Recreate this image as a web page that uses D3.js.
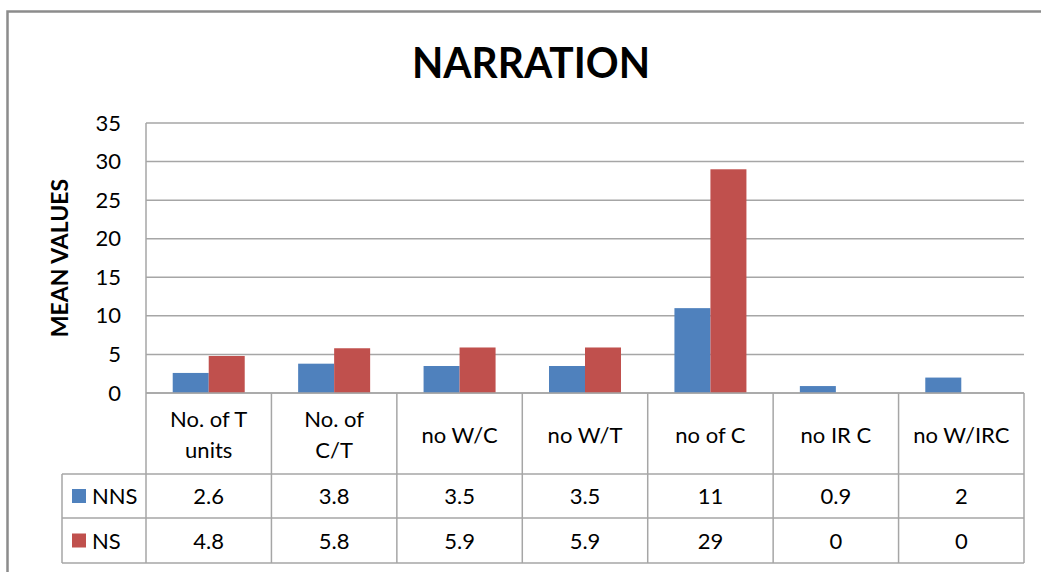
<!DOCTYPE html>
<html><head><meta charset="utf-8">
<script src="https://cdn.jsdelivr.net/npm/d3@7"></script>
<style>html,body{margin:0;padding:0;background:#fff;}svg{display:block;}text{font-family:Lato,"Open Sans",sans-serif;fill:#000;}</style>
</head><body>
<svg id="c" width="1041" height="572"></svg>
<script>
const categories = [["No. of T","units"],["No. of","C/T"],["no W/C"],["no W/T"],["no of C"],["no IR C"],["no W/IRC"]];
const seriesNames = ["NNS","NS"];
const nnsValues = [2.6,3.8,3.5,3.5,11,0.9,2];
const nsValues = [4.8,5.8,5.9,5.9,29,0,0];
const nnsLabels = ["2.6","3.8","3.5","3.5","11","0.9","2"];
const nsLabels = ["4.8","5.8","5.9","5.9","29","0","0"];
const yTicks = [0,5,10,15,20,25,30,35];
const colors = ["#4F81BD","#C0504D"];

const svg = d3.select("#c");
const L = 146, R = 1024, T = 123, B = 393;
const rowY = [393, 474, 518, 563];
const tableLeft = 62;
const grid = "#a6a6a6";
const fs = 22;

// frame
svg.append("rect").attr("x",7.5).attr("y",11.5).attr("width",1060).attr("height",600)
  .attr("fill","none").attr("stroke","#8c8c8c").attr("stroke-width",2.5);

// title
svg.append("text").attr("x",531).attr("y",78).attr("text-anchor","middle")
  .attr("font-size",42).attr("font-weight","bold").attr("textLength",238).attr("lengthAdjust","spacingAndGlyphs")
  .text("NARRATION");

const x = d3.scaleBand().domain(d3.range(categories.length)).range([L,R]).paddingInner(0).paddingOuter(0);
const y = d3.scaleLinear().domain([0,35]).range([B,T]);
const bw = 36;
const xs = d3.scaleBand().domain([0,1]).range([0,bw*2]);

// gridlines
svg.append("g").selectAll("line").data(yTicks).join("line")
  .attr("x1",L).attr("x2",R).attr("y1",d=>y(d)).attr("y2",d=>y(d))
  .attr("stroke",grid).attr("stroke-width",1.5);

// y axis
const yAxis = d3.axisLeft(y).tickValues(yTicks).tickSize(0).tickPadding(25);
const ga = svg.append("g").attr("transform",`translate(${L},0)`).call(yAxis);
ga.select(".domain").remove();
ga.selectAll("text").attr("font-size",22).attr("font-family","Lato,'Open Sans',sans-serif").attr("fill","#000");
svg.append("line").attr("x1",L).attr("x2",L).attr("y1",T).attr("y2",B).attr("stroke",grid).attr("stroke-width",1.5);

svg.append("text").attr("transform","translate(68,258) rotate(-90)").attr("text-anchor","middle")
  .attr("font-size",23).attr("font-weight","bold").text("MEAN VALUES");

// bars
const series = [nnsValues, nsValues];
series.forEach((vals,si)=>{
  svg.append("g").selectAll("rect").data(vals).join("rect")
    .attr("x",(d,i)=>x(i)+x.bandwidth()/2-bw+xs(si))
    .attr("width",xs.bandwidth())
    .attr("y",d=>y(d)).attr("height",d=>y(0)-y(d))
    .attr("fill",colors[si]);
});

// table lines
const tg = svg.append("g").attr("stroke",grid).attr("stroke-width",1.5).attr("fill","none");
tg.append("line").attr("x1",L).attr("x2",R).attr("y1",rowY[0]).attr("y2",rowY[0]);
tg.append("line").attr("x1",tableLeft).attr("x2",R).attr("y1",rowY[1]).attr("y2",rowY[1]);
tg.append("line").attr("x1",tableLeft).attr("x2",R).attr("y1",rowY[2]).attr("y2",rowY[2]);
tg.append("line").attr("x1",tableLeft).attr("x2",R).attr("y1",rowY[3]).attr("y2",rowY[3]);
tg.append("line").attr("x1",tableLeft).attr("x2",tableLeft).attr("y1",rowY[1]).attr("y2",rowY[3]);
d3.range(categories.length+1).forEach(i=>{
  const xx = i<categories.length ? x(i) : R;
  tg.append("line").attr("x1",xx).attr("x2",xx).attr("y1",rowY[0]).attr("y2",rowY[3]);
});

// header labels
categories.forEach((lines,i)=>{
  const cx = x(i)+x.bandwidth()/2;
  const t = svg.append("text").attr("text-anchor","middle").attr("font-size",fs);
  if(lines.length===2){
    t.append("tspan").attr("x",cx).attr("y",427).text(lines[0]);
    t.append("tspan").attr("x",cx).attr("y",458).text(lines[1]);
  } else {
    t.attr("x",cx).attr("y",443).text(lines[0]);
  }
});

// rows
[nnsLabels, nsLabels].forEach((labs,si)=>{
  const cy = (rowY[si+1]+rowY[si+2])/2;
  svg.append("rect").attr("x",72).attr("y",cy-7).attr("width",14).attr("height",14).attr("fill",colors[si]);
  svg.append("text").attr("x",92).attr("y",cy+8).attr("font-size",fs).text(seriesNames[si]);
  svg.append("g").selectAll("text").data(labs).join("text")
    .attr("x",(d,i)=>x(i)+x.bandwidth()/2).attr("y",cy+8).attr("text-anchor","middle").attr("font-size",fs)
    .text(d=>d);
});
</script>
</body></html>
